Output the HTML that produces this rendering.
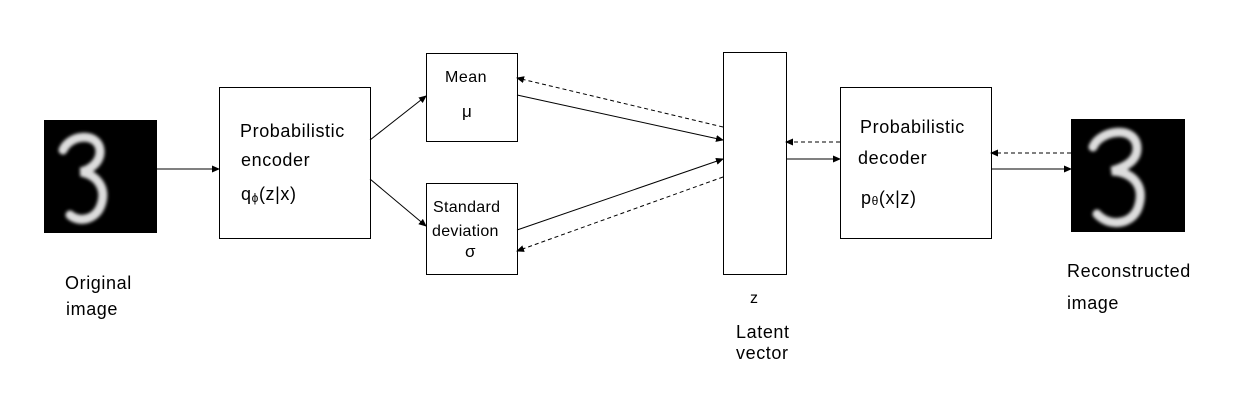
<!DOCTYPE html>
<html><head><meta charset="utf-8"><style>
body{margin:0;background:#fff;}
svg{display:block;font-family:"Liberation Sans","DejaVu Sans",sans-serif;}
</style></head><body>
<svg width="1244" height="401" viewBox="0 0 1244 401">
<defs>
<marker id="ah" markerWidth="8" markerHeight="8" refX="7" refY="4" orient="auto" markerUnits="userSpaceOnUse"><path d="M0,0.5 L8,4 L0,7.5 Z" fill="#000"/></marker>
<filter id="bl" x="-20%" y="-20%" width="140%" height="140%"><feGaussianBlur stdDeviation="1.6"/></filter>
</defs>
<g fill="none" stroke="#000" stroke-width="1">
<rect x="219.5" y="87.5" width="151" height="151"/>
<rect x="426.5" y="53.5" width="91" height="88"/>
<rect x="426.5" y="183.5" width="91" height="91"/>
<rect x="723.5" y="52.5" width="63" height="222"/>
<rect x="840.5" y="87.5" width="151" height="151"/>
</g>
<g>
<rect x="44" y="120" width="113" height="113" fill="#000"/>
<path d="M63,150 C70,134 98,132 100,150 C101,163 89,170 81,172 C97,175 107,188 101,205 C96,220 79,223 70,215" fill="none" stroke="#ddd" stroke-width="9" stroke-linecap="round" filter="url(#bl)"/>
</g>
<g>
<rect x="1071" y="119" width="114" height="113" fill="#000"/>
<path d="M1093,147 C1100,130 1135,125 1137,147 C1138,162 1122,168 1112,171 C1132,172 1146,185 1138,208 C1132,224 1110,228 1097,214" fill="none" stroke="#ddd" stroke-width="9" stroke-linecap="round" filter="url(#bl)"/>
</g>
<g stroke="#000" stroke-width="1" fill="none" marker-end="url(#ah)">
<line x1="157" y1="169" x2="219" y2="169"/>
<line x1="370" y1="140" x2="426" y2="96"/>
<line x1="370" y1="179" x2="426" y2="226"/>
<line x1="517" y1="95" x2="723" y2="140"/>
<line x1="517" y1="230" x2="723" y2="159"/>
<line x1="786" y1="159" x2="840" y2="159"/>
<line x1="991" y1="169" x2="1071" y2="169"/>
<g stroke-dasharray="4,3">
<line x1="723" y1="127" x2="517" y2="78"/>
<line x1="723" y1="177" x2="517" y2="251"/>
<line x1="840" y1="142" x2="786" y2="142"/>
<line x1="1071" y1="153" x2="991" y2="153"/>
</g>
</g>
<g fill="#000" font-size="18" letter-spacing="0.6">
<text x="65" y="289">Original</text>
<text x="66" y="315">image</text>
<text x="240" y="137">Probabilistic</text>
<text x="241" y="166">encoder</text>
<text x="241" y="200">q<tspan font-size="12" dy="2">ϕ</tspan><tspan dy="-2">(z|x)</tspan></text>
<text x="445" y="82" font-size="16" letter-spacing="0.5">Mean</text>
<text x="462" y="117" font-size="17">μ</text>
<text x="433" y="212" font-size="16" letter-spacing="0.3">Standard</text>
<text x="432" y="236" font-size="16" letter-spacing="0.3">deviation</text>
<text x="465" y="257" font-size="17">σ</text>
<text x="750" y="303" font-size="16">z</text>
<text x="736" y="338">Latent</text>
<text x="736" y="359">vector</text>
<text x="860" y="133">Probabilistic</text>
<text x="858" y="164">decoder</text>
<text x="861" y="204">p<tspan font-size="12" dy="1">θ</tspan><tspan dy="-1">(x|z)</tspan></text>
<text x="1067" y="277">Reconstructed</text>
<text x="1067" y="309">image</text>
</g>
</svg>
</body></html>
